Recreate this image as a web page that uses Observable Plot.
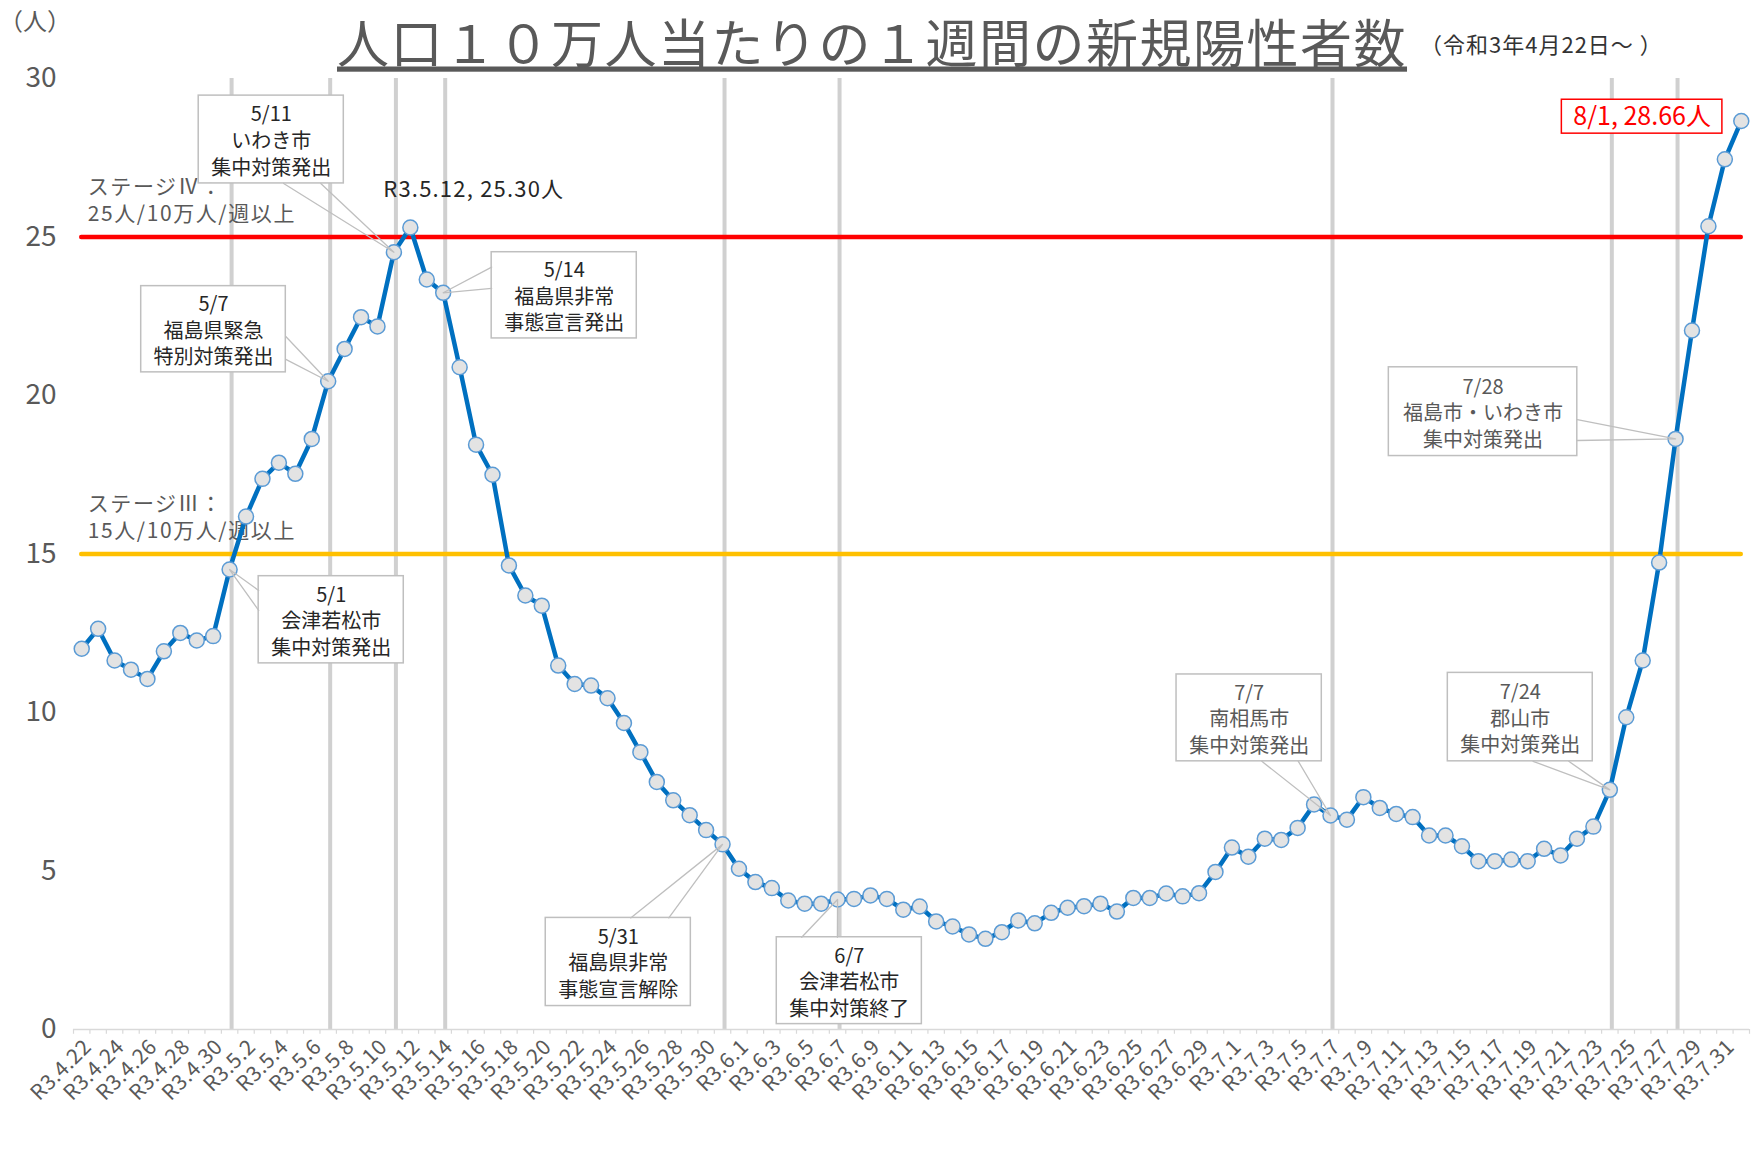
<!DOCTYPE html>
<html>
<head>
<meta charset="utf-8">
<script src="https://cdn.jsdelivr.net/npm/d3@7"></script>
<script src="https://cdn.jsdelivr.net/npm/@observablehq/plot@0.6"></script>
<style>
  body { margin: 0; background: #fff; }
  #chart { width: 1763px; height: 1165px; }
</style>
</head>
<body>
<div id="chart"></div>
<script>
// ---- data ----
const dates = [
  "R3.4.22","R3.4.23","R3.4.24","R3.4.25","R3.4.26","R3.4.27","R3.4.28","R3.4.29","R3.4.30",
  "R3.5.1","R3.5.2","R3.5.3","R3.5.4","R3.5.5","R3.5.6","R3.5.7","R3.5.8","R3.5.9","R3.5.10",
  "R3.5.11","R3.5.12","R3.5.13","R3.5.14","R3.5.15","R3.5.16","R3.5.17","R3.5.18","R3.5.19","R3.5.20",
  "R3.5.21","R3.5.22","R3.5.23","R3.5.24","R3.5.25","R3.5.26","R3.5.27","R3.5.28","R3.5.29","R3.5.30","R3.5.31",
  "R3.6.1","R3.6.2","R3.6.3","R3.6.4","R3.6.5","R3.6.6","R3.6.7","R3.6.8","R3.6.9","R3.6.10",
  "R3.6.11","R3.6.12","R3.6.13","R3.6.14","R3.6.15","R3.6.16","R3.6.17","R3.6.18","R3.6.19","R3.6.20",
  "R3.6.21","R3.6.22","R3.6.23","R3.6.24","R3.6.25","R3.6.26","R3.6.27","R3.6.28","R3.6.29","R3.6.30",
  "R3.7.1","R3.7.2","R3.7.3","R3.7.4","R3.7.5","R3.7.6","R3.7.7","R3.7.8","R3.7.9","R3.7.10",
  "R3.7.11","R3.7.12","R3.7.13","R3.7.14","R3.7.15","R3.7.16","R3.7.17","R3.7.18","R3.7.19","R3.7.20",
  "R3.7.21","R3.7.22","R3.7.23","R3.7.24","R3.7.25","R3.7.26","R3.7.27","R3.7.28","R3.7.29","R3.7.30","R3.7.31",
  "R3.8.1"
];

const values = [
  12.01, 12.64, 11.64, 11.35, 11.06, 11.93, 12.51, 12.27, 12.41,
  14.51, 16.18, 17.37, 17.88, 17.53, 18.63, 20.45, 21.47, 22.47, 22.18,
  24.52, 25.30, 23.66, 23.24, 20.89, 18.45, 17.50, 14.64, 13.69, 13.37,
  11.48, 10.90, 10.85, 10.45, 9.67, 8.75, 7.81, 7.23, 6.76, 6.29, 5.84,
  5.07, 4.65, 4.46, 4.07, 3.97, 3.97, 4.10, 4.12, 4.23, 4.12,
  3.78, 3.88, 3.41, 3.25, 3.00, 2.86, 3.07, 3.44, 3.35, 3.68,
  3.84, 3.89, 3.97, 3.72, 4.15, 4.15, 4.29, 4.20, 4.30, 4.97,
  5.74, 5.45, 6.02, 5.98, 6.36, 7.10, 6.75, 6.62, 7.33, 6.99,
  6.80, 6.70, 6.12, 6.12, 5.78, 5.31, 5.31, 5.36, 5.31, 5.70,
  5.49, 6.02, 6.40, 7.56, 9.85, 11.64, 14.73, 18.63, 22.05, 25.34, 27.45,
  28.66
];

const yTicks = [0, 5, 10, 15, 20, 25, 30];

const eventDates = ["R3.5.1","R3.5.7","R3.5.11","R3.5.14","R3.5.31","R3.6.7","R3.7.7","R3.7.24","R3.7.28"];

const stageLabels = [
  {value: 25, text: "ステージⅣ：\n25人/10万人/週以上"},
  {value: 15, text: "ステージⅢ：\n15人/10万人/週以上"}
];

const callouts = [
  {date: "R3.5.11", text: "5/11\nいわき市\n集中対策発出", dark: true},
  {date: "R3.5.7",  text: "5/7\n福島県緊急\n特別対策発出", dark: true},
  {date: "R3.5.14", text: "5/14\n福島県非常\n事態宣言発出", dark: true},
  {date: "R3.5.1",  text: "5/1\n会津若松市\n集中対策発出", dark: true},
  {date: "R3.5.31", text: "5/31\n福島県非常\n事態宣言解除", dark: true},
  {date: "R3.6.7",  text: "6/7\n会津若松市\n集中対策終了", dark: true},
  {date: "R3.7.7",  text: "7/7\n南相馬市\n集中対策発出", dark: false},
  {date: "R3.7.24", text: "7/24\n郡山市\n集中対策発出", dark: false},
  {date: "R3.7.28", text: "7/28\n福島市・いわき市\n集中対策発出", dark: false}
];

const peakLabel = {date: "R3.5.12", text: "R3.5.12, 25.30人"};
const latestLabel = {date: "R3.8.1", text: "8/1, 28.66人"};

const titleText = "人口１０万人当たりの１週間の新規陽性者数";
const subtitleText = "（令和3年4月22日～ ）";
const unitText = "（人）";

// ---- layout (data-unit positions of callout boxes: x in day index, y in value) ----
const calloutBoxes = [
  {x1: 7.12,  x2: 15.95, y1: 26.69, y2: 29.46, b: [[12.29, 26.69], [14.55, 26.69]]},
  {x1: 3.62,  x2: 12.42, y1: 20.73, y2: 23.45, b: [[12.42, 21.86], [12.42, 21.14]]},
  {x1: 24.95, x2: 33.78, y1: 21.80, y2: 24.52, b: [[24.95, 24.05], [24.95, 23.38]]},
  {x1: 10.77, x2: 19.60, y1: 11.55, y2: 14.30, b: [[10.77, 13.85], [10.77, 13.22]]},
  {x1: 28.24, x2: 37.07, y1: 0.74,  y2: 3.52,  b: [[33.41, 3.52], [35.73, 3.52]]},
  {x1: 42.30, x2: 51.13, y1: 0.17,  y2: 2.91,  b: [[43.82, 2.91], [45.99, 2.91]]},
  {x1: 66.63, x2: 75.47, y1: 8.46,  y2: 11.20, b: [[71.82, 8.46], [74.04, 8.46]]},
  {x1: 83.14, x2: 91.96, y1: 8.46,  y2: 11.25, b: [[88.33, 8.46], [90.50, 8.46]]},
  {x1: 79.55, x2: 91.02, y1: 18.09, y2: 20.89, b: [[91.02, 19.24], [91.02, 18.58]]}
];
const peakPos = {x: 23.86, y: 26.47};
const latestBox = {x1: 90.08, x2: 99.85, y1: 28.26, y2: 29.33};

// ---- build ----
const idx = d => dates.indexOf(d);
const series = values.map((v, i) => ({i, v}));
const labelIdx = dates.map((d, i) => i).filter(i => i % 2 === 0 && i <= 100);
const bounds = d3.range(0, dates.length + 1).map(k => k - 0.5);

const boxes = callouts.map((c, k) => ({...c, ...calloutBoxes[k], ti: idx(c.date), tv: values[idx(c.date)]}));
const wedges = boxes.flatMap((b, k) => [
  {k, x: b.b[0][0], y: b.b[0][1]},
  {k, x: b.ti, y: b.tv},
  {k, x: b.b[1][0], y: b.b[1][1]}
]);

const FONT = "'Noto Sans CJK JP', 'Noto Sans', sans-serif";

const plot = Plot.plot({
  width: 1763,
  height: 1165,
  marginLeft: 73,
  marginRight: 14,
  marginTop: 78,
  marginBottom: 136,
  style: {fontFamily: FONT, background: "#ffffff", overflow: "visible"},
  x: {type: "linear", domain: [-0.5, dates.length - 0.5]},
  y: {domain: [0, 30]},
  marks: [
    Plot.ruleX(eventDates, {x: d => idx(d), y1: 0, y2: 30, stroke: "#d0d0d0", strokeWidth: 4, dx: 2}),
    Plot.ruleY([0], {stroke: "#d9d9d9", strokeWidth: 1.5}),
    Plot.ruleX(bounds, {x: d => d, y1: 0, y2: -0.15, stroke: "#d9d9d9", strokeWidth: 1.2}),
    Plot.axisY({ticks: yTicks, tickSize: 0, tickPadding: 17, fontSize: 28, fill: "#595959", label: null}),
    Plot.axisX({ticks: labelIdx, tickFormat: i => dates[i], tickSize: 0, tickRotate: -45, tickPadding: 14,
                fontSize: 21, fill: "#595959", dx: 6, label: null}),
    Plot.ruleY([25], {x1: 0, x2: dates.length - 1, stroke: "#ff0000", strokeWidth: 4.5, strokeLinecap: "round"}),
    Plot.ruleY([15], {x1: 0, x2: dates.length - 1, stroke: "#ffc000", strokeWidth: 4.5, strokeLinecap: "round"}),
    Plot.text(stageLabels, {x: 0, y: d => d.value, text: "text", dx: 6, dy: -38, textAnchor: "start",
                            lineAnchor: "middle", lineHeight: 1.3, fontSize: 21, fill: "#595959"}),
    Plot.line(series, {x: "i", y: "v", stroke: "#0070c0", strokeWidth: 4.5}),
    Plot.dot(series, {x: "i", y: "v", r: 7.5, fill: "#e3e3e3", stroke: "#5b9bd5", strokeWidth: 1.5}),
    Plot.rect(boxes, {x1: "x1", x2: "x2", y1: "y1", y2: "y2", fill: "#ffffff", stroke: "#bfbfbf", strokeWidth: 1.5}),
    Plot.line(wedges, {x: "x", y: "y", z: "k", stroke: "#bfbfbf", strokeWidth: 1.3}),
    Plot.text(boxes.filter(d => d.dark), {x: d => (d.x1 + d.x2) / 2, y: d => (d.y1 + d.y2) / 2, text: "text",
              fontSize: 20, lineHeight: 1.33, lineAnchor: "middle", fill: "#262626"}),
    Plot.text(boxes.filter(d => !d.dark), {x: d => (d.x1 + d.x2) / 2, y: d => (d.y1 + d.y2) / 2, text: "text",
              fontSize: 20, lineHeight: 1.33, lineAnchor: "middle", fill: "#595959"}),
    Plot.text([peakLabel], {x: peakPos.x, y: peakPos.y, text: "text", fontSize: 22, fill: "#262626"}),
    Plot.rect([latestBox], {x1: "x1", x2: "x2", y1: "y1", y2: "y2", fill: "#ffffff", stroke: "#ff0000", strokeWidth: 1.5}),
    Plot.text([latestLabel], {x: (latestBox.x1 + latestBox.x2) / 2, y: (latestBox.y1 + latestBox.y2) / 2,
              text: "text", fontSize: 25, fill: "#ff0000"})
  ]
});

const svg = d3.select(plot);
// letter spacing tweaks for wide reference font
svg.selectAll("text").each(function () {
  const t = this.textContent || "";
  if (t.includes("ステージ")) d3.select(this).style("letter-spacing", "1.6px");
  else if (t === peakLabel.text) d3.select(this).style("letter-spacing", "1.2px");
  else if (/^R3\.\d+\.\d+$/.test(t)) d3.select(this).style("letter-spacing", "0.5px");
});
svg.append("text")
  .attr("x", 35).attr("y", 19)
  .attr("text-anchor", "middle").attr("dominant-baseline", "central")
  .attr("font-family", FONT).attr("font-size", 24).attr("fill", "#595959")
  .text(unitText);
svg.append("text")
  .attr("x", 337).attr("y", 40)
  .attr("text-anchor", "start").attr("dominant-baseline", "central")
  .attr("font-family", FONT).attr("font-size", 52).attr("fill", "#595959")
  .style("letter-spacing", "1.5px").style("text-decoration", "underline")
  .style("text-decoration-thickness", "3px")
  .text(titleText);
svg.append("text")
  .attr("x", 1420).attr("y", 43)
  .attr("text-anchor", "start").attr("dominant-baseline", "central")
  .attr("font-family", FONT).attr("font-size", 22).attr("fill", "#333333")
  .style("letter-spacing", "1px")
  .text(subtitleText);

document.getElementById("chart").appendChild(plot);
</script>
</body>
</html>
